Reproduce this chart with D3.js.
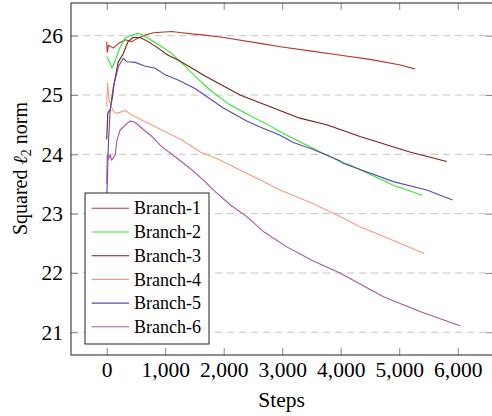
<!DOCTYPE html>
<html>
<head>
<meta charset="utf-8">
<script src="https://cdn.jsdelivr.net/npm/d3@7"></script>
<style>
	body { margin: 0; background: #fff; }
	svg { display: block; }
</style>
</head>
<body>
<div id="chart"></div>
<script>
// series data
var names = ["Branch-1", "Branch-2", "Branch-3", "Branch-4", "Branch-5", "Branch-6"],
	colors = ["#b8372a", "#2ee82e", "#7a1f10", "#f89c78", "#5a4bb0", "#a9559f"];

var b1Steps = [0, 10, 30, 115, 200, 315, 430, 540, 655, 800, 1110, 1285, 1455, 1680, 2000, 2620, 3000, 3500, 4000, 4500, 5000, 5270],
	b1Vals = [25.9, 25.72, 25.84, 25.79, 25.87, 25.93, 25.9, 25.96, 26.01, 26.05, 26.07, 26.05, 26.03, 26.01, 25.97, 25.87, 25.81, 25.74, 25.67, 25.6, 25.51, 25.44];

var b2Steps = [0, 40, 90, 160, 230, 310, 400, 520, 600, 750, 900, 1100, 1350, 1550, 1770, 2110, 2400, 2850, 2963, 3532, 3988, 4159, 4900, 5395],
	b2Vals = [25.65, 25.58, 25.45, 25.62, 25.81, 25.96, 26.0, 26.04, 26.02, 25.93, 25.84, 25.71, 25.48, 25.28, 25.08, 24.83, 24.68, 24.45, 24.38, 24.1, 23.88, 23.82, 23.48, 23.31];

var b3Steps = [0, 20, 60, 90, 130, 195, 280, 365, 450, 570, 710, 880, 1050, 1220, 1510, 1680, 2280, 2850, 3300, 3760, 4330, 5180, 5812],
	b3Vals = [24.25, 24.7, 24.75, 24.92, 25.2, 25.55, 25.69, 25.9, 25.97, 25.97, 25.9, 25.79, 25.67, 25.59, 25.42, 25.32, 25.0, 24.78, 24.61, 24.5, 24.3, 24.04, 23.88];

var b4Steps = [0, 15, 40, 115, 170, 260, 315, 430, 660, 940, 1285, 1600, 1880, 2390, 2621, 2963, 3500, 3988, 4330, 5013, 5429],
	b4Vals = [24.8, 25.2, 24.92, 24.72, 24.69, 24.72, 24.74, 24.66, 24.55, 24.41, 24.24, 24.04, 23.93, 23.68, 23.57, 23.4, 23.18, 22.95, 22.78, 22.5, 22.33];

var b5Steps = [0, 30, 60, 115, 200, 285, 345, 485, 650, 830, 1000, 1230, 1510, 1994, 2394, 2621, 2963, 3190, 3532, 3988, 4040, 4900, 5470, 5914],
	b5Vals = [23.2, 24.2, 24.75, 25.14, 25.48, 25.62, 25.56, 25.55, 25.49, 25.45, 25.34, 25.25, 25.11, 24.78, 24.56, 24.46, 24.32, 24.2, 24.08, 23.89, 23.85, 23.54, 23.4, 23.23];

var b6Steps = [0, 10, 30, 60, 85, 145, 175, 230, 315, 400, 460, 510, 600, 775, 940, 1170, 1455, 1681, 1823, 2109, 2394, 2678, 3078, 3532, 3988, 4730, 5355, 6039],
	b6Vals = [23.5, 24.0, 23.92, 23.99, 23.9, 23.99, 24.24, 24.41, 24.49, 24.56, 24.55, 24.52, 24.44, 24.3, 24.13, 23.96, 23.74, 23.54, 23.4, 23.15, 22.95, 22.7, 22.44, 22.2, 22.0, 21.6, 21.35, 21.11];

var xTicks = [0, 1000, 2000, 3000, 4000, 5000, 6000],
	yTicks = [21, 22, 23, 24, 25, 26];

var seriesSteps = [b1Steps, b2Steps, b3Steps, b4Steps, b5Steps, b6Steps],
	seriesVals = [b1Vals, b2Vals, b3Vals, b4Vals, b5Vals, b6Vals];

// chart params (note: "top" is taken by window.top, so plot* names)
var w = 492,
	h = 416,
	plotLeft = 71,
	plotTop = 3,
	plotRight = 492.8,
	plotBottom = 355,
	tickLen = 7,
	serif = "Liberation Serif";

var x = d3.scaleLinear().domain([-610, 6600]).range([plotLeft, plotRight]),
	y = d3.scaleLinear().domain([20.617, 26.551]).range([plotBottom, plotTop]);

var svg = d3.select("#chart").append("svg")
	.attr("width", w)
	.attr("height", h);

// dashed grid
svg.append("g").selectAll("line")
	.data(yTicks)
	.enter().append("line")
	.attr("x1", plotLeft).attr("x2", plotRight)
	.attr("y1", function(d) { return y(d); })
	.attr("y2", function(d) { return y(d); })
	.attr("stroke", "#c4c4c4")
	.attr("stroke-width", 1)
	.attr("stroke-dasharray", "7,5");

// lines
var line = d3.line()
	.x(function(d) { return x(d[0]); })
	.y(function(d) { return y(d[1]); });

svg.append("g").selectAll("path")
	.data(d3.range(names.length))
	.enter().append("path")
	.attr("d", function(i) { return line(d3.zip(seriesSteps[i], seriesVals[i])); })
	.attr("fill", "none")
	.attr("stroke", function(i) { return colors[i]; })
	.attr("stroke-width", 1.1)
	.attr("stroke-linejoin", "round");

// axes: ticks inside on all four sides
var xAxisB = d3.axisBottom(x).tickValues(xTicks).tickSizeInner(-tickLen).tickSizeOuter(0).tickPadding(6.5).tickFormat(d3.format(",")),
	xAxisT = d3.axisTop(x).tickValues(xTicks).tickSizeInner(-tickLen).tickSizeOuter(0).tickFormat(""),
	yAxisL = d3.axisLeft(y).tickValues(yTicks).tickSizeInner(-tickLen).tickSizeOuter(0).tickPadding(8).tickFormat(d3.format("d")),
	yAxisR = d3.axisRight(y).tickValues(yTicks).tickSizeInner(-tickLen).tickSizeOuter(0).tickFormat("");

var gB = svg.append("g").attr("transform", "translate(0," + plotBottom + ")").call(xAxisB),
	gT = svg.append("g").attr("transform", "translate(0," + plotTop + ")").call(xAxisT),
	gL = svg.append("g").attr("transform", "translate(" + plotLeft + ",0)").call(yAxisL),
	gR = svg.append("g").attr("transform", "translate(" + plotRight + ",0)").call(yAxisR);

[gB, gT, gL, gR].forEach(function(g) {
	g.attr("font-family", serif).attr("font-size", 21.5);
	g.select(".domain").remove();
	g.selectAll(".tick line").attr("stroke", "#888");
	g.selectAll("text").attr("fill", "#000");
});

// frame
svg.append("rect")
	.attr("x", plotLeft).attr("y", plotTop)
	.attr("width", plotRight - plotLeft).attr("height", plotBottom - plotTop)
	.attr("fill", "none")
	.attr("stroke", "#222")
	.attr("stroke-width", 1);

// axis labels
svg.append("text")
	.attr("x", (plotLeft + 492) / 2)
	.attr("y", 407)
	.attr("text-anchor", "middle")
	.attr("font-size", 21.5)
	.attr("fill", "#000")
	.text("Steps");

var yl = svg.append("text")
	.attr("transform", "translate(27,168.5) rotate(-90)")
	.attr("text-anchor", "middle")
	.attr("font-size", 20)
	.attr("fill", "#000");
yl.append("tspan").text("Squared ");
yl.append("tspan").attr("font-style", "italic").text("ℓ");
yl.append("tspan").attr("dy", 4).attr("font-size", 14).text("2");
yl.append("tspan").attr("dy", -4).text(" norm");

// legend
var lgX = 85,
	lgY = 193,
	lgW = 124,
	lgH = 151,
	rowH = 23.7;

svg.append("rect")
	.attr("x", lgX).attr("y", lgY)
	.attr("width", lgW).attr("height", lgH)
	.attr("fill", "#fff")
	.attr("stroke", "#222")
	.attr("stroke-width", 1);

var rows = svg.append("g").selectAll("g")
	.data(names)
	.enter().append("g")
	.attr("transform", function(d, i) { return "translate(0," + (lgY + 15.3 + i * rowH) + ")"; });

rows.append("line")
	.attr("x1", 91.7).attr("x2", 129)
	.attr("stroke", function(d, i) { return colors[i]; })
	.attr("stroke-width", 1.1);

rows.append("text")
	.attr("x", 134)
	.attr("dy", "0.34em")
	.attr("font-size", 18)
	.attr("fill", "#000")
	.text(function(d) { return d; });

svg.selectAll("text").attr("font-family", serif);
</script>
</body>
</html>
